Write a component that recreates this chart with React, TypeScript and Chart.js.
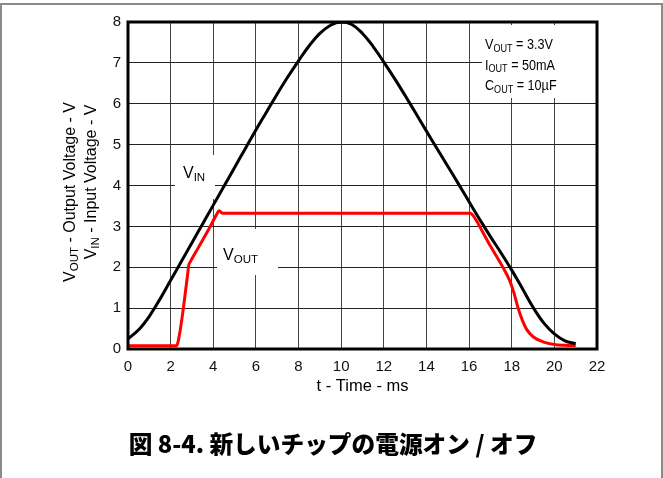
import React, { useEffect, useRef } from "react";
import { Chart, registerables } from "chart.js";

Chart.register(...registerables);

// ---- data ----
const X_TICKS = [0, 2, 4, 6, 8, 10, 12, 14, 16, 18, 20, 22];
const Y_TICKS = [0, 1, 2, 3, 4, 5, 6, 7, 8];

const vinT = [0, 0.5, 1, 1.5, 2, 2.5, 3, 3.5, 4, 4.5, 5, 5.5, 6, 6.5, 7, 7.5, 8, 8.5, 9, 9.5, 10, 10.5, 11, 11.5, 12, 12.5, 13, 13.5, 14, 14.5, 15, 15.5, 16, 16.5, 17, 17.5, 18, 18.5, 19, 19.5, 20, 20.5, 21];
const vinV = [0.25, 0.47, 0.8, 1.22, 1.68, 2.14, 2.6, 3.06, 3.52, 3.98, 4.44, 4.9, 5.36, 5.8, 6.24, 6.66, 7.05, 7.42, 7.72, 7.92, 8.0, 7.94, 7.72, 7.4, 7.02, 6.62, 6.2, 5.77, 5.33, 4.9, 4.47, 4.04, 3.6, 3.17, 2.75, 2.35, 1.93, 1.48, 1.02, 0.64, 0.37, 0.2, 0.13];

const voutT = [0, 2.25, 2.32, 2.78, 2.85, 2.92, 3.3, 3.8, 4.2, 4.27, 4.45, 16.05, 16.3, 16.6, 17.0, 17.5, 17.9, 18.1, 18.3, 18.5, 18.7, 19.0, 19.5, 20.0, 20.5, 21.0];
const voutV = [0.08, 0.08, 0.12, 1.75, 2.05, 2.13, 2.48, 2.94, 3.33, 3.38, 3.32, 3.32, 3.18, 2.9, 2.52, 2.08, 1.68, 1.38, 1.0, 0.7, 0.48, 0.3, 0.17, 0.11, 0.09, 0.08];

const CAPTION = "図 8-4. 新しいチップの電源オン / オフ";
const X_TITLE = "t - Time - ms";
const Y_TITLE_OUTER = [{ t: "V" }, { t: "OUT", sub: true }, { t: " - Output Voltage - V" }];
const Y_TITLE_INNER = [{ t: "V" }, { t: "IN", sub: true }, { t: " - Input Voltage - V" }];
const NOTE_LINES = [
  [{ t: "V" }, { t: "OUT", sub: true }, { t: " = 3.3V" }],
  [{ t: "I" }, { t: "OUT", sub: true }, { t: " = 50mA" }],
  [{ t: "C" }, { t: "OUT", sub: true }, { t: " = 10\u00b5F" }],
];
const VIN_LABEL = [{ t: "V" }, { t: "IN", sub: true }];
const VOUT_LABEL = [{ t: "V" }, { t: "OUT", sub: true }];

const SANS = "'Liberation Sans', Arial, sans-serif";

type Part = { t: string; sub?: boolean };

function richWidth(ctx: CanvasRenderingContext2D, parts: Part[], size: number) {
  let w = 0;
  for (const p of parts) {
    ctx.font = `${p.sub ? size * 0.72 : size}px ${SANS}`;
    w += ctx.measureText(p.t).width;
  }
  return w;
}

function drawRich(ctx: CanvasRenderingContext2D, parts: Part[], x: number, y: number, size: number, sx = 1) {
  // y is the middle line of the main text
  ctx.save();
  ctx.translate(x, y);
  ctx.scale(sx, 1);
  let cx = 0;
  ctx.textBaseline = "middle";
  ctx.textAlign = "left";
  for (const p of parts) {
    const s = p.sub ? size * 0.72 : size;
    ctx.font = `${s}px ${SANS}`;
    ctx.fillText(p.t, cx, p.sub ? size * 0.25 : 0);
    cx += ctx.measureText(p.t).width;
  }
  ctx.restore();
}

const decor = {
  id: "decor",
  beforeDraw(chart: any) {
    const ctx = chart.ctx as CanvasRenderingContext2D;
    ctx.save();
    ctx.fillStyle = "#fff";
    ctx.fillRect(0, 0, chart.width, chart.height);
    ctx.strokeStyle = "#8a8a8a";
    ctx.lineWidth = 2;
    ctx.beginPath();
    ctx.moveTo(1, chart.height);
    ctx.lineTo(1, 4);
    ctx.lineTo(chart.width - 1, 4);
    ctx.lineTo(chart.width - 1, chart.height);
    ctx.stroke();
    ctx.restore();
  },
  beforeDatasetsDraw(chart: any) {
    const ctx = chart.ctx as CanvasRenderingContext2D;
    const ca = chart.chartArea;
    ctx.save();
    ctx.fillStyle = "#fff";
    // label backgrounds hiding the grid
    ctx.fillRect(482, ca.top + 3, ca.right - 482, 98 - ca.top - 3);
    ctx.fillRect(175, 155, 40, 44);
    ctx.fillRect(217, 229, 61, 46);
    ctx.restore();
  },
  afterDatasetsDraw(chart: any) {
    const ctx = chart.ctx as CanvasRenderingContext2D;
    const ca = chart.chartArea;
    ctx.save();
    ctx.fillStyle = "#000";
    // notes
    NOTE_LINES.forEach((ln, i) => drawRich(ctx, ln, 485, 45 + i * 20.5, 15, 0.84));
    drawRich(ctx, VIN_LABEL, 183, 174, 16);
    drawRich(ctx, VOUT_LABEL, 223, 256, 16);
    // frame
    ctx.strokeStyle = "#000";
    ctx.lineWidth = 3;
    ctx.strokeRect(ca.left, ca.top, ca.right - ca.left, ca.bottom - ca.top);
    // axis titles
    ctx.font = `16.5px ${SANS}`;
    ctx.textAlign = "center";
    ctx.textBaseline = "middle";
    ctx.fillText(X_TITLE, (ca.left + ca.right) / 2, 386);
    const drawRot = (parts: Part[], cx: number, cy: number) => {
      ctx.save();
      ctx.translate(cx, cy);
      ctx.rotate(-Math.PI / 2);
      const w = richWidth(ctx, parts, 16);
      drawRich(ctx, parts, -w / 2, 0, 16);
      ctx.restore();
    };
    drawRot(Y_TITLE_OUTER, 71, 192);
    drawRot(Y_TITLE_INNER, 92, 182);
    // caption
    ctx.font = `900 23.7px 'Noto Sans CJK JP', sans-serif`;
    ctx.textAlign = "center";
    ctx.textBaseline = "middle";
    ctx.fillText(CAPTION, 333, 444);
    ctx.restore();
  },
};

export default function App() {
  const ref = useRef<HTMLCanvasElement | null>(null);
  useEffect(() => {
    if (!ref.current) return;
    const chart = new Chart(ref.current, {
      type: "line",
      data: {
        datasets: [
          {
            label: "VIN",
            data: vinT.map((t, i) => ({ x: t, y: vinV[i] })),
            borderColor: "#000",
            borderWidth: 3,
            pointRadius: 0,
            tension: 0.4,
          },
          {
            label: "VOUT",
            data: voutT.map((t, i) => ({ x: t, y: voutV[i] })),
            borderColor: "#ff0000",
            borderWidth: 3,
            pointRadius: 0,
            cubicInterpolationMode: "monotone",
          },
        ],
      },
      options: {
        animation: false,
        responsive: false,
        devicePixelRatio: 1,
        layout: { padding: { left: 0, top: 22, right: 66, bottom: 0 } },
        plugins: { legend: { display: false }, tooltip: { enabled: false } },
        scales: {
          x: {
            type: "linear",
            min: 0,
            max: 22,
            afterFit: (s: any) => { s.height = 129; },
            afterBuildTicks: (s: any) => { s.ticks = X_TICKS.map((v) => ({ value: v })); },
            grid: { color: "#444", lineWidth: 1, drawTicks: false },
            border: { display: false },
            ticks: { padding: 9, color: "#111", font: { family: SANS, size: 15 }, maxRotation: 0 },
          },
          y: {
            type: "linear",
            min: 0,
            max: 8,
            afterFit: (s: any) => { s.width = 128; },
            afterBuildTicks: (s: any) => { s.ticks = Y_TICKS.map((v) => ({ value: v })); },
            grid: { color: "#222", lineWidth: 1, drawTicks: false },
            border: { display: false },
            ticks: { padding: 7, color: "#111", font: { family: SANS, size: 15 } },
          },
        },
      },
      plugins: [decor],
    } as any);
    return () => chart.destroy();
  }, []);
  return (
    <div style={{ position: "fixed", left: 0, top: 0, width: 663, height: 478, background: "#fff" }}>
      <canvas ref={ref} width={663} height={478} style={{ display: "block" }} />
    </div>
  );
}
